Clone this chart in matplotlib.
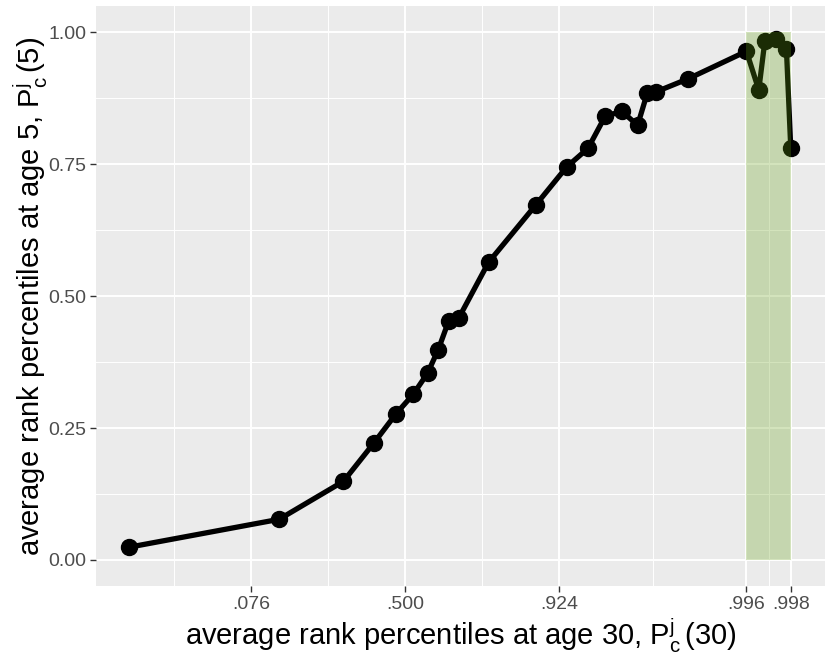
import numpy as np
import matplotlib
matplotlib.use("Agg")
import matplotlib.pyplot as plt

plt.rcParams['font.family'] = ['Liberation Sans', 'DejaVu Sans']
plt.rcParams['mathtext.fontset'] = 'custom'
plt.rcParams['mathtext.rm'] = 'Liberation Sans'
plt.rcParams['mathtext.it'] = 'Liberation Sans'

# average rank percentile at age 30 (x) and at age 5 (y)
p30 = [0.01124, 0.1152, 0.2698, 0.3769, 0.4636, 0.5336, 0.5906, 0.6318,
       0.6698, 0.7059, 0.7951, 0.8933, 0.9322, 0.9511, 0.9625, 0.9711,
       0.9775, 0.9807, 0.9833, 0.9900, 0.99607, 0.99678, 0.99708, 0.99756,
       0.99794, 0.99808]
p5 = [0.0241, 0.0771, 0.1491, 0.2217, 0.2767, 0.3140, 0.3538, 0.3985,
      0.4523, 0.4592, 0.5641, 0.6733, 0.7447, 0.7802, 0.8408, 0.8503,
      0.8238, 0.8850, 0.8874, 0.9121, 0.9640, 0.8907, 0.9829, 0.9879,
      0.9684, 0.7813]

x_breaks = [0.076, 0.500, 0.924, p30[20], p30[-1]]
x_labels = ['.076', '.500', '.924', '.996', '.998']
y_breaks = [0.0, 0.25, 0.5, 0.75, 1.0]
y_labels = ['0.00', '0.25', '0.50', '0.75', '1.00']

fig = plt.figure(figsize=(8.3, 6.64), dpi=100)
ax = fig.add_axes([96/830, 78/664, 729/830, 580/664])
ax.set_facecolor('#EBEBEB')
ax.set_xscale('logit')

# minor grid: midpoints in logit space
lg = lambda p: np.log(np.array(p) / (1 - np.array(p)))
ex = lambda z: 1 / (1 + np.exp(-z))
zb = lg(x_breaks)
x_minor = list(ex((zb[:-1] + zb[1:]) / 2)) + [ex(zb[0] - (zb[1] - zb[0]) / 2)]

ax.set_xticks(x_breaks)
ax.set_xticklabels(x_labels)
ax.set_xticks(x_minor, minor=True)
ax.xaxis.set_minor_formatter(matplotlib.ticker.NullFormatter())
ax.set_yticks(y_breaks)
ax.set_yticklabels(y_labels)
ax.set_yticks([0.125, 0.375, 0.625, 0.875], minor=True)

ax.grid(which='major', color='white', linewidth=1.4)
ax.grid(which='minor', color='white', linewidth=0.7)
ax.set_axisbelow(True)
for s in ax.spines.values():
    s.set_visible(False)
ax.tick_params(which='major', length=4, width=1, color='#333333',
               labelcolor='#4D4D4D', labelsize=14, pad=3)
ax.tick_params(which='minor', length=0)

ax.plot(p30, p5, color='black', linewidth=3.8, marker='o', markersize=11.5,
        solid_capstyle='butt', zorder=3)
ax.fill_between([p30[20], p30[-1]], [0, 0], [1, 1], color='#64A014',
                alpha=0.28, linewidth=0, zorder=4)

ax.set_xlim(0.006647, 0.998897)
ax.set_ylim(-0.0493, 1.0498)

ax.set_xlabel(r'average rank percentiles at age 30, $\mathregular{P_c^j\,(30)}$',
              fontsize=21, labelpad=3)
ax.set_ylabel(r'average rank percentiles at age 5, $\mathregular{P_c^j\,(5)}$',
              fontsize=21, labelpad=-1)

fig.savefig('out.png', dpi=100)
